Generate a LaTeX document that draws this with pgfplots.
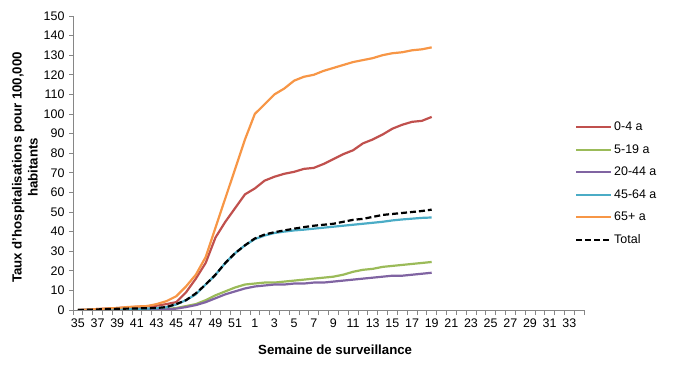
\documentclass[border=0pt]{standalone}
\usepackage{pgfplots}
\usepackage{pgfplotstable}
\pgfplotsset{compat=1.18}
\usepackage{fontspec}
\setmainfont{Liberation Sans}
\definecolor{cR}{HTML}{C0504D}
\definecolor{cG}{HTML}{9BBB59}
\definecolor{cP}{HTML}{8064A2}
\definecolor{cC}{HTML}{4BACC6}
\definecolor{cO}{HTML}{F79646}
\definecolor{axgray}{HTML}{868686}
\pgfplotstableread{
i  r     g     p     c     o     t
0  0     0     0     0     0     0
1  0.2   0     0     0.1   0.2   0.1
2  0.5   0.1   0.1   0.2   0.5   0.3
3  0.7   0.2   0.1   0.3   0.8   0.5
4  1.0   0.2   0.1   0.4   1.0   0.6
5  1.3   0.3   0.2   0.5   1.5   0.7
6  1.6   0.3   0.2   0.6   1.8   0.8
7  1.8   0.3   0.2   0.7   2.0   0.9
8  2.2   0.4   0.3   0.9   3.0   1.0
9  3.0   0.5   0.3   1.4   4.5   1.5
10 4.0   1.0   0.7   2.8   7.0   3.0
11 9.0   2.0   1.5   5.0   12    5.0
12 16    3.0   2.5   8.0   18    8.5
13 24    5.0   4.0   13    27    13
14 37    7.5   6.0   18    42    18
15 45    9.5   8.0   24    57    24
16 52    11.5  9.5   29    72    29
17 59    13    11    33    87    33
18 62    13.5  12    36.2  100   36.5
19 66    14    12.5  38    105   38.5
20 68    14    13    39.3  110   39.7
21 69.5  14.5  13    40    113   40.6
22 70.5  15    13.5  40.6  117   41.5
23 72    15.5  13.5  41    119   42.3
24 72.5  16    14    41.5  120   43
25 74.5  16.5  14    42    122   43.5
26 77    17    14.5  42.5  123.5 44
27 79.5  18    15    43    125   45
28 81.5  19.5  15.5  43.5  126.5 46
29 85    20.5  16    44    127.5 46.5
30 87    21    16.5  44.5  128.5 47.5
31 89.5  22    17    45    130   48.5
32 92.5  22.5  17.5  45.7  131   49
33 94.5  23    17.5  46.2  131.5 49.5
34 96    23.5  18    46.6  132.5 50
35 96.5  24    18.5  47    133   50.5
36 98.5  24.5  19    47.2  134   51.2
}\data
\begin{document}
\begin{tikzpicture}
\useasboundingbox (0,0) rectangle (673bp,366bp);
\begin{axis}[
  at={(73bp,56bp)}, anchor=south west,
  scale only axis, width=511bp, height=294bp,
  xmin=-0.5, xmax=51.5, ymin=0, ymax=150,
  axis x line*=bottom, axis y line*=left,
  axis line style={axgray, line width=0.7bp, -},
  font=\fontsize{12.5}{14}\selectfont,
  ticklabel style={font=\fontsize{12.5}{14}\selectfont},
  /pgf/number format/assume math mode=true,
  ytick={0,10,...,150},
  xtick={0,2,...,50},
  xticklabels={35,37,39,41,43,45,47,49,51,1,3,5,7,9,11,13,15,17,19,21,23,25,27,29,31,33},
  minor xtick={-0.5,0.5,...,51.5},
  tick align=outside,
  major x tick style={draw=none},
  minor x tick style={axgray, line width=0.7bp},
  major y tick style={axgray, line width=0.7bp},
  major tick length=4bp, minor tick length=5bp,
  xticklabel style={yshift=-1bp},
  yticklabel style={xshift=-1bp},
  ylabel={Taux d'hospitalisations pour 100,000\\habitants},
  ylabel style={at={(axis description cs:-0.094,0.485)}, anchor=center, rotate=0, align=center, font=\fontsize{13.3}{16}\selectfont\bfseries},
  xlabel={Semaine de surveillance},
  xlabel style={at={(axis description cs:0.513,-0.136)}, anchor=center, font=\fontsize{13.3}{16}\selectfont\bfseries},
  legend style={at={(axis description cs:0.982,0.64)}, anchor=north west, draw=none, fill=none, inner sep=0pt, row sep=12.3bp, nodes={anchor=west, inner xsep=2bp, inner ysep=0pt}, font=\fontsize{12.5}{14}\selectfont},
  legend cell align=left,
  legend image code/.code={\draw[#1] (0bp,0bp) -- (35bp,0bp);},
  every axis plot/.append style={line width=2.2bp, line join=round},
]
\addplot[cR] table[x=i,y=r]{\data};
\addlegendentry{0-4 a}
\addplot[cG] table[x=i,y=g]{\data};
\addlegendentry{5-19 a}
\addplot[cP] table[x=i,y=p]{\data};
\addlegendentry{20-44 a}
\addplot[cC] table[x=i,y=c]{\data};
\addlegendentry{45-64 a}
\addplot[cO] table[x=i,y=o]{\data};
\addlegendentry{65+ a}
\addplot[black, dash pattern=on 6bp off 3bp] table[x=i,y=t]{\data};
\addlegendentry{Total}
\end{axis}
\end{tikzpicture}
\end{document}
